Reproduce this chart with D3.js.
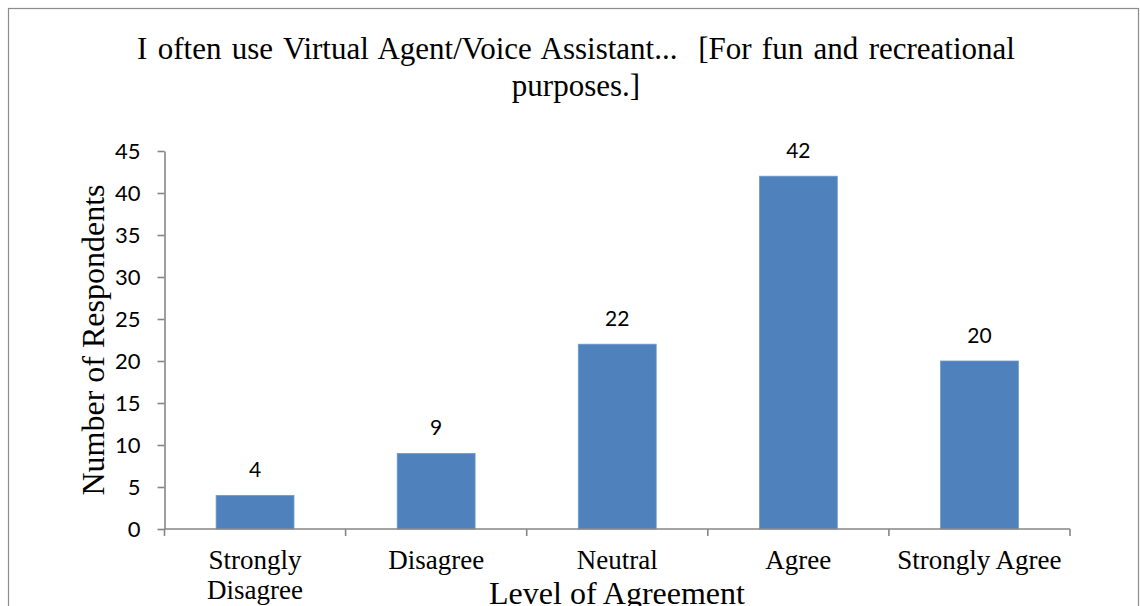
<!DOCTYPE html>
<html>
<head>
<meta charset="utf-8">
<script src="https://cdn.jsdelivr.net/npm/d3@7"></script>
<style>
  html, body { margin: 0; padding: 0; background: #fff; }
  svg { display: block; }
</style>
</head>
<body>
<svg id="chart" width="1140" height="606"></svg>
<script>
// Survey responses: how often a virtual agent / voice assistant is used for fun
const categories = ["Strongly Disagree", "Disagree", "Neutral", "Agree", "Strongly Agree"];
const categoryLines = [["Strongly", "Disagree"], ["Disagree"], ["Neutral"], ["Agree"], ["Strongly Agree"]];
const respondents = [4, 9, 22, 42, 20];
const yTicks = [0, 5, 10, 15, 20, 25, 30, 35, 40, 45];
const titleLines = ["I often use Virtual Agent/Voice Assistant...  [For fun and recreational", "purposes.]"];

const svg = d3.select("#chart");
const margin = { left: 164.5, right: 70, top: 151, bottom: 77 };
const serif = "'Liberation Serif', 'Times New Roman', serif";
const sans = "Lato, 'Open Sans', sans-serif";
const axisColor = "#868686";
const barColor = "#4F81BD";

// outer frame
svg.append("rect")
  .attr("x", 8.5).attr("y", 8.5)
  .attr("width", 1130).attr("height", 640)
  .attr("fill", "none").attr("stroke", "#8c8c8c").attr("stroke-width", 1.2);

const x = d3.scaleBand()
  .domain(categories)
  .range([margin.left, 1070])
  .paddingInner(0.57).paddingOuter(0.285);

const y = d3.scaleLinear()
  .domain([0, 45])
  .range([529, 151]);

// title (keeps the double space before the bracket)
svg.append("text")
  .attr("text-anchor", "middle")
  .style("white-space", "pre")
  .attr("font-family", serif).attr("font-size", 31).attr("fill", "#000")
  .selectAll("tspan").data(titleLines).join("tspan")
  .attr("x", 576).attr("y", (d, i) => 59 + i * 37)
  .attr("word-spacing", (d, i) => i === 0 ? 2.6 : 0)
  .text(d => d);

// bars
svg.append("g").selectAll("rect").data(respondents).join("rect")
  .attr("x", (d, i) => x(categories[i]))
  .attr("width", x.bandwidth())
  .attr("y", d => y(d))
  .attr("height", d => y(0) - y(d))
  .attr("fill", barColor)
  .attr("stroke", "#6f99cc").attr("stroke-width", 0.8);

// value labels
svg.append("g").selectAll("text").data(respondents).join("text")
  .attr("x", (d, i) => x(categories[i]) + x.bandwidth() / 2)
  .attr("y", d => y(d) - 18.5)
  .attr("text-anchor", "middle")
  .attr("font-family", sans).attr("font-size", 21).attr("fill", "#000")
  .text(d => d);

// y axis
const yAxis = svg.append("g")
  .attr("transform", `translate(${margin.left},0)`)
  .call(d3.axisLeft(y).tickValues(yTicks).tickSize(7).tickPadding(17).tickSizeOuter(0));
yAxis.select(".domain").attr("stroke", axisColor).attr("stroke-width", 1.6);
yAxis.selectAll(".tick line").attr("stroke", axisColor).attr("stroke-width", 1.6);
yAxis.selectAll(".tick text")
  .attr("font-family", sans).attr("font-size", 22).attr("fill", "#000");

// x axis: ticks sit on category boundaries
const boundaries = d3.range(categories.length + 1).map(i => margin.left + i * x.step());
const xAxis = svg.append("g");
xAxis.append("line")
  .attr("x1", margin.left).attr("x2", 1070)
  .attr("y1", y(0)).attr("y2", y(0))
  .attr("stroke", axisColor).attr("stroke-width", 1.6);
xAxis.selectAll("line.tick").data(boundaries).join("line")
  .attr("class", "tick")
  .attr("x1", d => d).attr("x2", d => d)
  .attr("y1", y(0)).attr("y2", y(0) + 7)
  .attr("stroke", axisColor).attr("stroke-width", 1.6);

xAxis.selectAll("text.cat").data(categoryLines).join("text")
  .attr("class", "cat")
  .attr("text-anchor", "middle")
  .attr("font-family", serif).attr("font-size", 27).attr("fill", "#000")
  .each(function(lines, i) {
    d3.select(this).selectAll("tspan").data(lines).join("tspan")
      .attr("x", x(categories[i]) + x.bandwidth() / 2)
      .attr("y", (d, j) => 569 + j * 30)
      .text(d => d);
  });

// axis titles
svg.append("text")
  .attr("x", 617).attr("y", 604)
  .attr("text-anchor", "middle")
  .attr("font-family", serif).attr("font-size", 32).attr("fill", "#000")
  .text("Level of Agreement");

svg.append("text")
  .attr("transform", `translate(104,340) rotate(-90)`)
  .attr("text-anchor", "middle")
  .attr("font-family", serif).attr("font-size", 32).attr("fill", "#000")
  .text("Number of Respondents");
</script>
</body>
</html>
